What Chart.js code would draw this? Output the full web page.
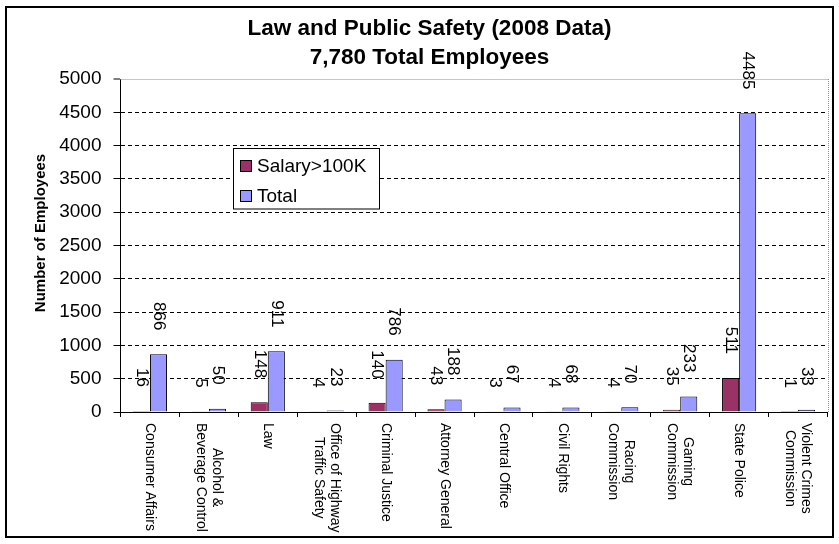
<!DOCTYPE html>
<html>
<head>
<meta charset="utf-8">
<script src="https://cdn.jsdelivr.net/npm/chart.js@4/dist/chart.umd.min.js"></script>
<style>
html,body{margin:0;padding:0;background:#fff;}
#wrap{position:relative;width:839px;height:544px;}
</style>
</head>
<body>
<div id="wrap"><canvas id="c" width="839" height="544"></canvas></div>
<script>
// ---- data ----
const categories = [
  ["Consumer Affairs"],
  ["Alcohol &", "Beverage Control"],
  ["Law"],
  ["Office of Highway", "Traffic Safety"],
  ["Criminal Justice"],
  ["Attorney General"],
  ["Central Office"],
  ["Civil Rights"],
  ["Racing", "Commission"],
  ["Gaming", "Commission"],
  ["State Police"],
  ["Violent Crimes", "Commission"]
];
const salaryOver100K = [16, 5, 148, 4, 140, 43, 3, 4, 4, 35, 511, 1];
const totalEmployees = [866, 50, 911, 23, 786, 188, 67, 68, 70, 233, 4485, 33];
const yTicks = [0, 500, 1000, 1500, 2000, 2500, 3000, 3500, 4000, 4500, 5000];
const seriesNames = ["Salary>100K", "Total"];
const titleLines = ["Law and Public Safety (2008 Data)", "7,780 Total Employees"];
const yAxisTitle = "Number of Employees";

// ---- styles ----
const FONT = '"Liberation Sans", Arial, Helvetica, sans-serif';
const salaryColor = '#993366';
const totalColor = '#9999FF';

const framePlugin = {
  id: 'frame',
  beforeDraw(chart) {
    const ctx = chart.ctx;
    ctx.save();
    ctx.fillStyle = '#fff';
    ctx.fillRect(0, 0, chart.width, chart.height);
    ctx.strokeStyle = '#000';
    ctx.lineWidth = 2;
    ctx.strokeRect(6, 7, 827, 530);
    ctx.restore();
  },
  afterDraw(chart) {
    const ctx = chart.ctx, a = chart.chartArea;
    ctx.save();
    ctx.strokeStyle = '#8c8c8c';
    ctx.lineWidth = 1;
    ctx.setLineDash([1, 1]);
    ctx.beginPath();
    ctx.moveTo(a.left, Math.round(a.top) + 0.5);
    ctx.lineTo(a.right, Math.round(a.top) + 0.5);
    ctx.moveTo(Math.round(a.right) + 0.5, a.top);
    ctx.lineTo(Math.round(a.right) + 0.5, a.bottom);
    ctx.stroke();
    ctx.restore();
  }
};

const xLabelPlugin = {
  id: 'xLabels',
  afterDraw(chart) {
    const ctx = chart.ctx, xs = chart.scales.x, a = chart.chartArea;
    ctx.save();
    ctx.fillStyle = '#000';
    ctx.font = '14px ' + FONT;
    ctx.textAlign = 'center';
    ctx.textBaseline = 'middle';
    const lh = 16;
    chart.data.labels.forEach((lab, i) => {
      const lines = Array.isArray(lab) ? lab : [lab];
      const maxW = Math.max(...lines.map(l => ctx.measureText(l).width));
      const cx = xs.getPixelForValue(i);
      ctx.save();
      ctx.translate(cx, a.bottom + 11);
      ctx.rotate(Math.PI / 2);
      lines.forEach((l, j) => {
        ctx.fillText(l, maxW / 2, (j - (lines.length - 1) / 2) * lh);
      });
      ctx.restore();
    });
    ctx.restore();
  }
};

const valueLabelPlugin = {
  id: 'valueLabels',
  afterDatasetsDraw(chart) {
    const ctx = chart.ctx;
    ctx.save();
    ctx.fillStyle = '#000';
    ctx.font = '17px ' + FONT;
    ctx.textAlign = 'right';
    ctx.textBaseline = 'middle';
    chart.data.datasets.forEach((ds, di) => {
      const meta = chart.getDatasetMeta(di);
      meta.data.forEach((bar, i) => {
        ctx.save();
        ctx.translate(bar.x, bar.y - 24);
        ctx.rotate(Math.PI / 2);
        ctx.fillText(String(ds.data[i]), 0, 0);
        ctx.restore();
      });
    });
    ctx.restore();
  }
};

const legendPlugin = {
  id: 'boxLegend',
  afterDraw(chart) {
    const ctx = chart.ctx;
    const bx = 233.5, by = 148.5, bw = 146, bh = 60.5;
    ctx.save();
    ctx.fillStyle = '#fff';
    ctx.fillRect(bx, by, bw, bh);
    ctx.strokeStyle = '#000';
    ctx.lineWidth = 1;
    ctx.strokeRect(bx, by, bw, bh);
    ctx.font = '19px ' + FONT;
    ctx.textBaseline = 'middle';
    ctx.textAlign = 'left';
    chart.data.datasets.forEach((ds, i) => {
      const cy = 165.5 + i * 30.5;
      ctx.fillStyle = ds.backgroundColor;
      ctx.fillRect(240.5, Math.round(cy - 6) + 0.5, 11, 11);
      ctx.strokeRect(240.5, Math.round(cy - 6) + 0.5, 11, 11);
      ctx.fillStyle = '#000';
      ctx.fillText(ds.label, 257, cy + 1);
    });
    ctx.restore();
  }
};

const yTitlePlugin = {
  id: 'yTitle',
  afterDraw(chart) {
    const ctx = chart.ctx;
    ctx.save();
    ctx.fillStyle = '#000';
    ctx.font = 'bold 15px ' + FONT;
    ctx.textAlign = 'center';
    ctx.textBaseline = 'middle';
    ctx.translate(41, 233);
    ctx.rotate(-Math.PI / 2);
    ctx.fillText(yAxisTitle, 0, 0);
    ctx.restore();
  }
};

new Chart(document.getElementById('c'), {
  type: 'bar',
  data: {
    labels: categories,
    datasets: [
      { label: seriesNames[0], data: salaryOver100K, backgroundColor: salaryColor, borderColor: '#000', borderWidth: 1, borderSkipped: 'bottom' },
      { label: seriesNames[1], data: totalEmployees, backgroundColor: totalColor, borderColor: '#000', borderWidth: 1, borderSkipped: 'bottom' }
    ]
  },
  options: {
    responsive: false,
    animation: false,
    devicePixelRatio: 1,
    datasets: { bar: { categoryPercentage: 0.58, barPercentage: 1.0 } },
    layout: { padding: { left: 31.5, right: 11.5, top: 0, bottom: 0 } },
    plugins: {
      legend: { display: false },
      tooltip: { enabled: false },
      title: {
        display: true,
        text: titleLines,
        color: '#000',
        font: { family: FONT, size: 22.5, weight: 'bold', lineHeight: 1.29 },
        padding: { top: 14, bottom: 7 }
      }
    },
    scales: {
      x: {
        offset: true,
        grid: { display: true, offset: true, drawOnChartArea: false, drawTicks: true, tickLength: 5, tickColor: '#000', tickWidth: 1 },
        border: { display: true, color: '#000', width: 1 },
        ticks: { display: false },
        afterFit(s) { s.height = 132; }
      },
      y: {
        min: 0,
        max: 5000,
        afterBuildTicks(s) { s.ticks = yTicks.map(v => ({ value: v })); },
        ticks: { color: '#000', font: { family: FONT, size: 19 }, padding: 12, callback: v => String(v) },
        grid: {
          color: '#000',
          lineWidth: c => (c.tick && c.tick.value === 5000) ? 0 : 1,
          drawTicks: true, tickLength: 7, tickColor: '#000', tickWidth: 1
        },
        border: { display: true, color: '#000', width: 1, dash: [4, 3] },
        afterFit(s) { s.width = 89; }
      }
    }
  },
  plugins: [framePlugin, xLabelPlugin, valueLabelPlugin, legendPlugin, yTitlePlugin]
});
</script>
</body>
</html>
